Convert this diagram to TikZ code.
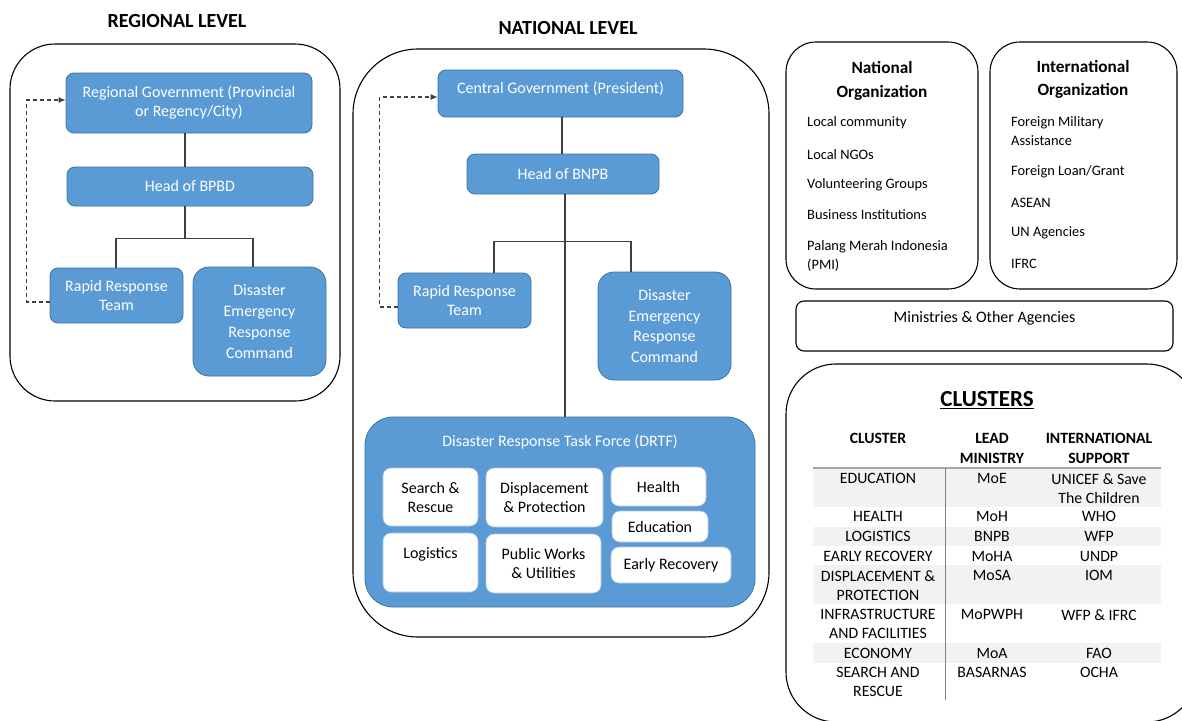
\documentclass[tikz,border=0pt]{standalone}
\usepackage{fontspec}
\setmainfont{Carlito}
\usetikzlibrary{arrows.meta}

\definecolor{boxblue}{HTML}{5B9BD5}
\definecolor{boxedge}{HTML}{41719C}
\definecolor{rowgray}{HTML}{F2F2F2}
\definecolor{linegray}{HTML}{404040}

\begin{document}
\begin{tikzpicture}
[x=1pt,y=-1pt,
 every node/.style={font=\fontsize{16}{19}\selectfont,inner sep=0pt},
 bluebox/.style={draw=boxedge,fill=boxblue,text=white,rounded corners=8pt,align=center,line width=0.8pt},
 bigbox/.style={rounded corners=16pt,font=\fontsize{16}{20.7}\selectfont},
 whitebox/.style={draw=boxedge!40,fill=white,text=black,rounded corners=8pt,align=center,line width=0.6pt},
 outer/.style={draw=black,line width=1.1pt},
 link/.style={draw=linegray,line width=1.2pt},
 dasharrow/.style={draw=linegray,line width=1.1pt,dash pattern=on 4pt off 3pt,-{Latex[length=7pt,width=6pt]}},
 title/.style={font=\fontsize{20}{24}\selectfont\bfseries},
 orgtitle/.style={font=\fontsize{17.2}{24}\selectfont\bfseries,align=center},
 orgitem/.style={anchor=west,align=left,font=\fontsize{14.4}{19}\selectfont},
 cell/.style={anchor=north,align=center,font=\fontsize{15.8}{19.5}\selectfont},
 headcell/.style={cell,font=\fontsize{15.7}{20}\selectfont\bfseries}]

\useasboundingbox (0,0) rectangle (1182,720);
\clip (0,0) rectangle (1182,720);

%% regional level
\node[title] (regt) at (177,21) {REGIONAL LEVEL};
\draw[outer,rounded corners=45pt] (10,44) rectangle (340,401);
\node[bluebox,minimum width=246pt,minimum height=60pt] (rgov) at (189,103) {Regional Government (Provincial\\or Regency/City)};
\node[bluebox,minimum width=246pt,minimum height=39pt] (bpbd) at (190,186.5) {Head of BPBD};
\node[bluebox,minimum width=133pt,minimum height=55pt] (rrt) at (116.5,295.5) {Rapid Response\\Team};
\node[bluebox,bigbox,minimum width=133pt,minimum height=109pt] (derc) at (259.5,321.5) {Disaster\\Emergency\\Response\\Command};

\draw[link] ([xshift=-4pt]rgov.south) -- ([xshift=-5pt]bpbd.north);
\draw[link] ([xshift=-5pt]bpbd.south) -- ++(0,32) coordinate (rj);
\draw[link] ([xshift=-0.5pt]rrt.north) |- (rj) -| ([xshift=-6.5pt]derc.north);
\draw[dasharrow] ([yshift=-6.5pt]rrt.west) -- ++(-23,0) |- ([yshift=3pt]rgov.west);

%% national level
\node[title] (natt) at (568,28) {NATIONAL LEVEL};
\draw[outer,rounded corners=65pt] (353,49) rectangle (769,637);
\node[bluebox,minimum width=245pt,minimum height=47pt,text height=12pt,text depth=13pt] (cgov) at (560.5,93.5) {Central Government (President)};
\node[bluebox,minimum width=192pt,minimum height=40pt] (bnpb) at (563,174) {Head of BNPB};
\node[bluebox,minimum width=133pt,minimum height=55pt] (rrtn) at (464.5,300.5) {Rapid Response\\Team};
\node[bluebox,bigbox,minimum width=133pt,minimum height=108pt] (dercn) at (664.5,326) {Disaster\\Emergency\\Response\\Command};

\draw[link] ([xshift=1.5pt]cgov.south) -- ([xshift=-1pt]bnpb.north);
\path ([xshift=2pt]bnpb.south) ++(0,47) coordinate (nj);
\draw[link] ([xshift=29.5pt]rrtn.north) |- (nj) -| ([xshift=-33.5pt]dercn.north);
\draw[dasharrow] ([yshift=-6.5pt]rrtn.west) -- ++(-18,0) |- ([yshift=-3.5pt]cgov.west);

% task force
\node[bluebox,rounded corners=28pt,minimum width=390pt,minimum height=190pt] (drtf) at (560,512) {};
\draw[link] ([xshift=2pt]bnpb.south) -- ([xshift=5pt]drtf.north);
\node[text=white] (drtft) at (560,442) {Disaster Response Task Force (DRTF)};
\node[whitebox,minimum width=95pt,minimum height=58pt] (sar) at (430.5,497) {Search \&\\Rescue};
\node[whitebox,minimum width=117pt,minimum height=59pt] (dap) at (544.5,497.5) {Displacement\\\& Protection};
\node[whitebox,minimum width=95pt,minimum height=39pt] (hea) at (658.5,486.5) {Health};
\node[whitebox,minimum width=96pt,minimum height=31pt] (edu) at (660,526.5) {Education};
\node[whitebox,minimum width=120pt,minimum height=36pt] (erc) at (671,565) {Early Recovery};
\node[whitebox,minimum width=95pt,minimum height=59pt] (logi) at (430.5,562.5) {Logistics\\\mbox{}};
\node[whitebox,minimum width=115pt,minimum height=59pt] (pwu) at (543.5,563.5) {Public Works\\\& Utilities};

%% organizations
\draw[outer,rounded corners=30pt] (786,42) rectangle (978,289);
\draw[outer,rounded corners=30pt] (990,42) rectangle (1177,289);
\node[orgtitle] (natorg) at (882,81) {National\\Organization};
\node[orgtitle,font=\fontsize{17.2}{23}\selectfont\bfseries] (intorg) at (1083,79.5) {International\\Organization};
\node[orgitem] (lcom) at (807,123) {Local community};
\node[orgitem] (lngo) at (807,155) {Local NGOs};
\node[orgitem] (volg) at (807,185) {Volunteering Groups};
\node[orgitem] (busi) at (807,215) {Business Institutions};
\node[orgitem] (pmi) at (807,255.5) {Palang Merah Indonesia\\(PMI)};
\node[orgitem] (fma) at (1011,131.5) {Foreign Military\\Assistance};
\node[orgitem] (flg) at (1011,172) {Foreign Loan/Grant};
\node[orgitem] (asean) at (1011,203) {ASEAN};
\node[orgitem] (unag) at (1011,233) {UN Agencies};
\node[orgitem] (ifrc) at (1011,264) {IFRC};
\node[outer,rounded corners=8pt,minimum width=377pt,minimum height=50pt,align=center] (mina) at (984.5,326) {Ministries \& Other Agencies\\\mbox{}};

%% clusters
\draw[outer,rounded corners=50pt] (786,364) rectangle (1197,722);
\node[font=\fontsize{23}{27}\selectfont\bfseries] (clt) at (987,400) {\underline{CLUSTERS}};
\foreach \a/\b in {469/507,527/546,565/604,643/663}
  \fill[rowgray] (813,\a) rectangle (1161,\b);
\draw[gray!70,line width=1.5pt] (813,468) -- (1161,468);
\draw[gray,line width=1pt] (945,468) -- (945,700);
\node[headcell] (hc) at (878,433) {CLUSTER};
\node[headcell] (hl) at (992,433) {LEAD\\MINISTRY};
\node[headcell] (hs) at (1099,433) {INTERNATIONAL\\SUPPORT};
\foreach \y/\c/\l/\s in {478/EDUCATION/MoE/{UNICEF \& Save\\The Children},
    516/HEALTH/MoH/WHO, 536/LOGISTICS/BNPB/WFP, 556/EARLY RECOVERY/MoHA/UNDP,
    575/{DISPLACEMENT \&\\PROTECTION}/MoSA/IOM, 614/{INFRASTRUCTURE\\AND FACILITIES}/MoPWPH/WFP \& IFRC,
    653/ECONOMY/MoA/FAO, 672/{SEARCH AND\\RESCUE}/BASARNAS/OCHA}
{
  \node[cell] (cl\y) at (878,\y-5) {\c};
  \node[cell] (ld\y) at (992,\y-5) {\l};
  \node[cell] (is\y) at (1099,\y-5) {\s};
}
\end{tikzpicture}
\end{document}
